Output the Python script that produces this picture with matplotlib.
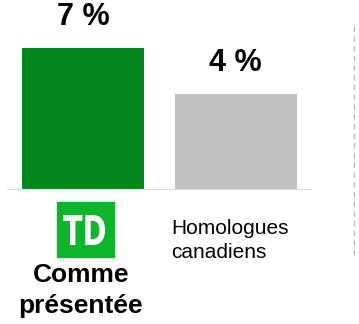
import matplotlib.pyplot as plt
from matplotlib.patches import Rectangle, PathPatch
from matplotlib.lines import Line2D
from matplotlib.textpath import TextPath
from matplotlib.font_manager import FontProperties
from matplotlib.transforms import Affine2D

plt.rcParams['font.family'] = ['Liberation Sans', 'DejaVu Sans']

# données
groupes = ["TD", "Homologues"]
valeurs = [6.6, 4.45]
etiquettes = ["7 %", "4 %"]
couleurs = ["#05871f", "#bfbfbf"]

W, H = 359, 324
fig = plt.figure(figsize=(W / 100, H / 100), dpi=100)

# axes : base à y=190 px, de x=7 à x=312 px
ax = fig.add_axes([7 / W, (H - 190) / H, 305 / W, 190 / H])
ax.bar(range(len(valeurs)), valeurs, width=0.8, color=couleurs)
ax.set_xlim(-0.5, 1.5)
ax.set_ylim(0, valeurs[0] * 190 / 142)
for i, (v, t) in enumerate(zip(valeurs, etiquettes)):
    ax.annotate(t, (i, v), xytext=(0, 11.5), textcoords="offset points",
                ha="center", va="bottom", fontsize=22, fontweight="bold")
ax.axhline(0, color="#dcdcdc", lw=1.6)
for s in ax.spines.values():
    s.set_visible(False)
ax.set_xticks([])
ax.set_yticks([])

# ligne pointillée verticale à droite
fig.add_artist(Line2D([354 / W, 354 / W], [1 - 26 / H, 1 - 255 / H],
                      color="#bdbdbd", lw=1.0, ls=(0, (4, 3))))

# logo TD
fig.add_artist(Rectangle((57 / W, 1 - 257 / H), 57 / W, 55 / H,
                         color="#0db52c", transform=fig.transFigure))
tp = TextPath((0, 0), "TD", size=10,
              prop=FontProperties(family="DejaVu Sans", weight="bold"))
bb = tp.get_extents()
tr = (Affine2D().translate(-bb.x0, -bb.y0)
      .scale(42 / bb.width / W, 30 / bb.height / H)
      .translate(63 / W, 1 - 245 / H))
fig.add_artist(PathPatch(tr.transform_path(tp), color="white", lw=0,
                         transform=fig.transFigure))

# libellés
fig.text(81 / W, 1 - 282 / H, "Comme", fontsize=19, fontweight="bold",
         ha="center", va="baseline")
fig.text(81 / W, 1 - 313 / H, "présentée", fontsize=19, fontweight="bold",
         ha="center", va="baseline")
fig.text(171 / W, 1 - 234 / H, "Homologues", fontsize=15, va="baseline")
fig.text(171 / W, 1 - 258 / H, "canadiens", fontsize=15, va="baseline")

fig.savefig("out.png", dpi=100)
